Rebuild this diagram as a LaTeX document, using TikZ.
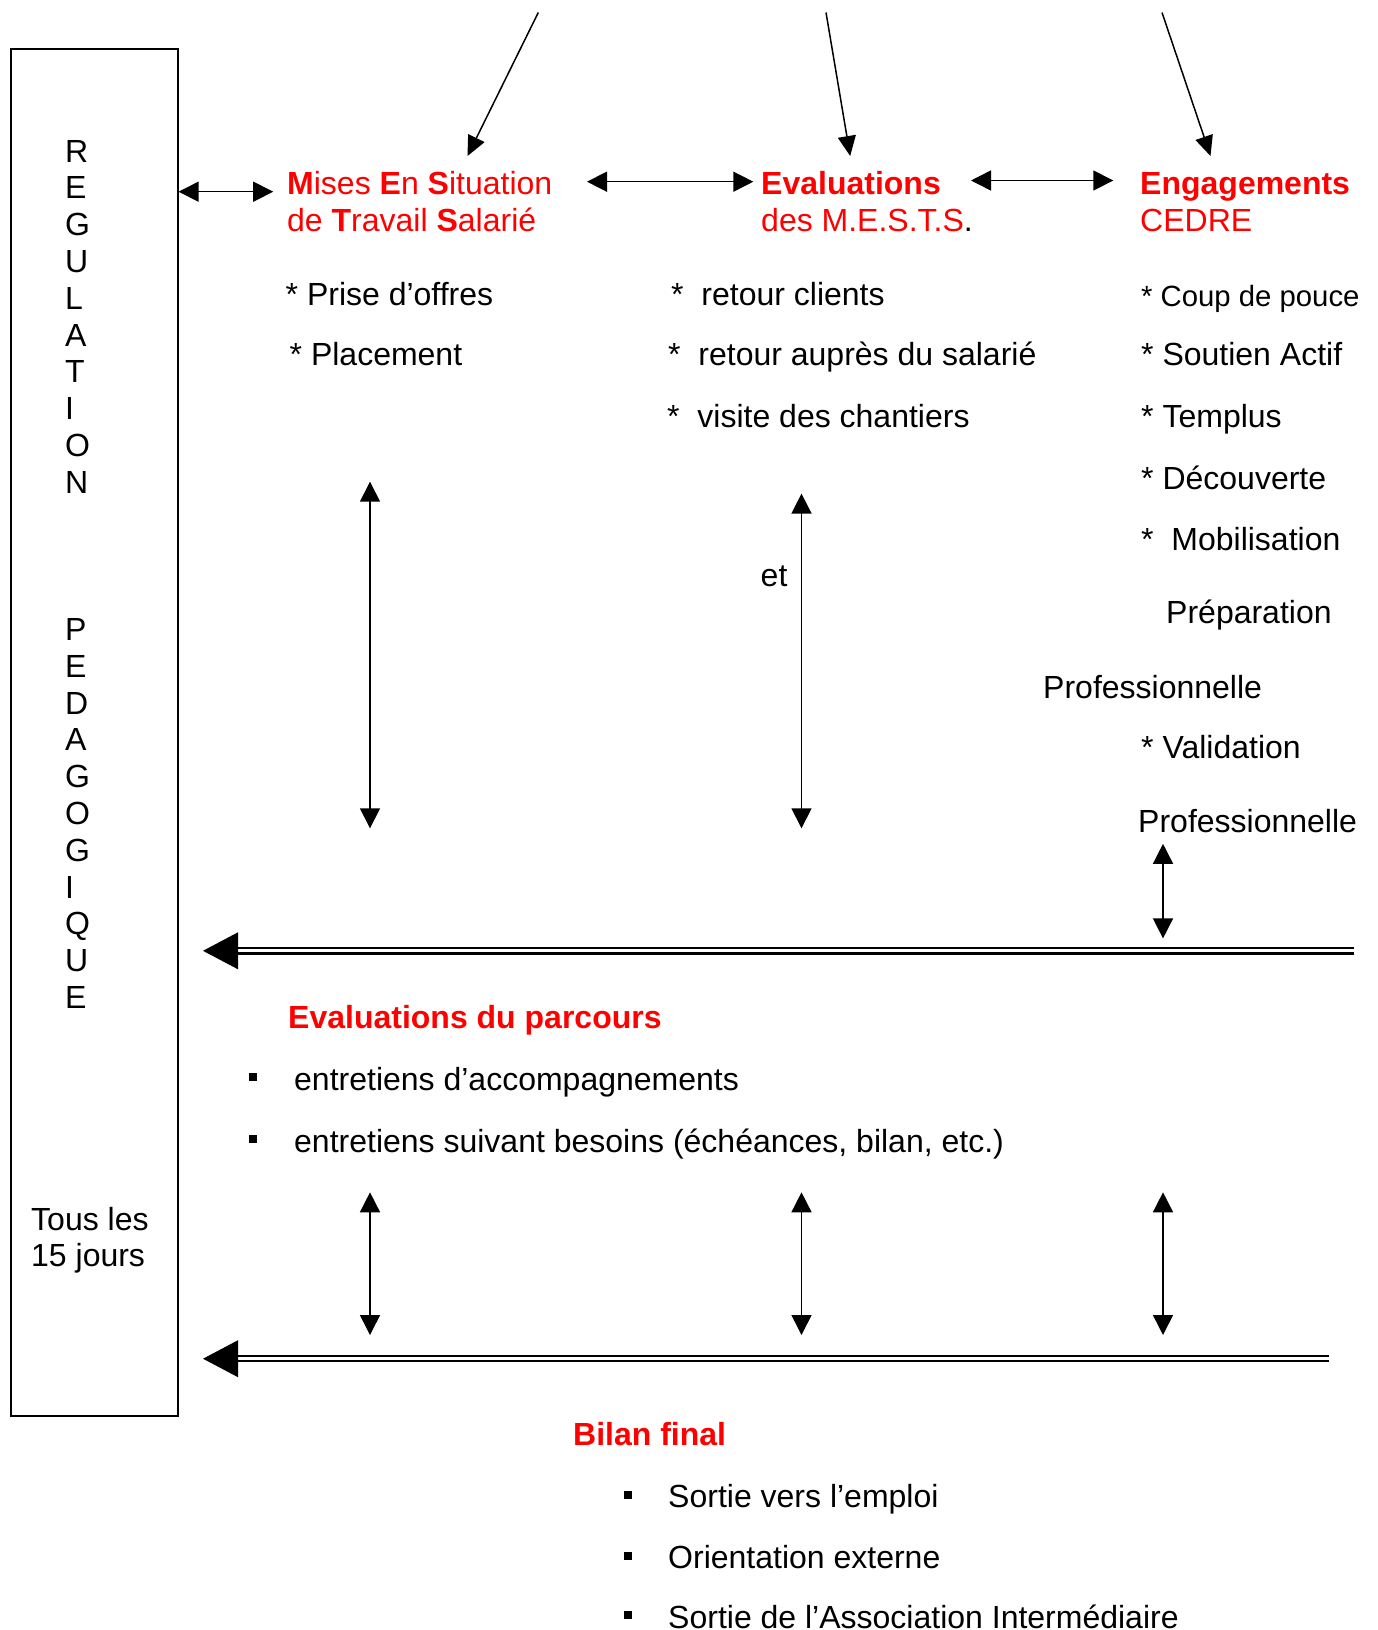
\documentclass[tikz,border=0pt]{standalone}
\usepackage{fontspec}
\setmainfont{Liberation Sans}
\usetikzlibrary{arrows.meta}
\definecolor{hred}{RGB}{255,0,0}
\newcommand{\fsz}{\fontsize{32}{36.8}\selectfont}
\newcommand{\fsm}{\fontsize{29.3}{33.7}\selectfont}
\begin{document}
\begin{tikzpicture}[x=1pt,y=-1pt,
  txt/.style={anchor=base west,inner sep=0pt,font=\fsz,yshift=-2pt},
  smalltxt/.style={anchor=base west,inner sep=0pt,font=\fsm,yshift=-2pt},
  hd/.style={txt,text=hred},
  hdb/.style={txt,text=hred,font=\fsz\bfseries},
  letter/.style={anchor=base west,inner sep=0pt,font=\fsz},
  dblarr/.style={draw,line width=1.5pt,{Triangle[length=20pt,width=20pt]}-{Triangle[length=20pt,width=20pt]}},
  onearr/.style={draw,line width=1.5pt,-{Triangle[length=20pt,width=18pt]}},
  bigshaft/.style={draw,double,double distance=3pt,line width=2.2pt},
  bighead/.style={fill=black},
  bul/.style={fill=black,minimum size=8pt,inner sep=0pt}
]
\useasboundingbox (0,0) rectangle (1377,1630);
\fill[white] (0,0) rectangle (1377,1630);

% left box
\node (box) [draw,line width=2pt,inner sep=0pt,minimum width=167pt,minimum height=1367.1pt,anchor=north west] at (9.8,48.3) {};
\foreach \l [count=\i from 0] in {R,E,G,U,L,A,T,I,O,N}
  \node[letter] (r\i) at (65,162+\i*36.8) {\l};
\foreach \l [count=\i from 13] in {P,E,D,A,G,O,G,I,Q,U,E}
  \node[letter] (p\i) at (65,162+\i*36.8) {\l};
\node[txt] (tous1) at (31,1228) {Tous les};
\node[txt] (tous2) at (31,1264.8) {15 jours};

% headings
\node[hd] (mes1) at (287,192) {\textbf{M}ises \textbf{E}n \textbf{S}ituation};
\node[hd] (mes2) at (287,229) {de \textbf{T}ravail \textbf{S}alarié};
\node[hdb] (ev1) at (761,192) {Evaluations};
\node[hd] (ev2) at (761,229) {des M.E.S.T.S\textcolor{black}{.}};
\node[hdb] (en1) at (1140,192) {Engagements};
\node[hd] (en2) at (1140,229) {CEDRE};

% top diagonal arrows
\coordinate (t1) at (538.3,12.5);
\coordinate (t2) at (826,12.5);
\coordinate (t3) at (1162,12.5);
\coordinate (h1) at (467.5,156);
\coordinate (h2) at (850.2,156);
\coordinate (h3) at (1210.5,156);
\draw[onearr] (t1) -- (h1);
\draw[onearr] (t2) -- (h2);
\draw[onearr] (t3) -- (h3);

% horizontal arrows between headings
\coordinate (a1l) at (178.6,191.7);
\coordinate (a1r) at (273.2,191.7);
\coordinate (a2l) at (587,181.7);
\coordinate (a2r) at (753.3,181.7);
\coordinate (a3l) at (971,180.5);
\coordinate (a3r) at (1113.3,180.5);
\draw[dblarr] (a1l) -- (a1r);
\draw[dblarr] (a2l) -- (a2r);
\draw[dblarr] (a3l) -- (a3r);

% lists
\node[txt] (l1) at (285.5,303) {* Prise d’offres};
\node[txt] (l2) at (289.5,363) {* Placement};
\node[txt] (m1) at (671,303) {*\ \ retour clients};
\node[txt] (m2) at (668,363) {*\ \ retour auprès du salarié};
\node[txt] (m3) at (667,425.7) {*\ \ visite des chantiers};
\node[smalltxt] (c1) at (1141,304) {* Coup de pouce};
\node[txt] (c2) at (1141,363) {* Soutien Actif};
\node[txt] (c3) at (1141,425.7) {* Templus};
\node[txt] (c4) at (1141,487) {* Découverte};
\node[txt] (c5) at (1141,548) {*\ \ Mobilisation};
\node[txt] (c6) at (1166,621) {Préparation};
\node[txt] (c7) at (1043,696) {Professionnelle};
\node[txt] (c8) at (1141,756) {* Validation};
\node[txt] (c9) at (1138,830) {Professionnelle};
\node[txt] (et) at (760.5,584.7) {et};

% vertical arrows middle
\coordinate (v1t) at (370,481.7);
\coordinate (v1b) at (370,828.3);
\coordinate (v2t) at (801.5,493.6);
\coordinate (v2b) at (801.5,828.3);
\coordinate (v3t) at (1163,843.8);
\coordinate (v3b) at (1163,938.4);
\draw[dblarr] (v1t) -- (v1b);
\draw[dblarr] (v2t) -- (v2b);
\draw[dblarr] (v3t) -- (v3b);

% big left arrow 1
\coordinate (b1tip) at (203,950.8);
\coordinate (b1base) at (238,950.8);
\coordinate (b1end) at (1354,950.8);
\draw[bigshaft] (b1end) -- (b1base);
\fill[bighead] (b1tip) -- ([yshift=18.5pt]b1base) -- ([yshift=-18.5pt]b1base) -- cycle;

% evaluations du parcours
\node[hdb] (evp) at (288,1026) {Evaluations du parcours};
\node[bul] (bu1) at (253,1077) {};
\node[txt] (e1) at (294,1088) {entretiens d’accompagnements};
\node[bul] (bu2) at (253,1139) {};
\node[txt] (e2) at (294,1150) {entretiens suivant besoins (échéances, bilan, etc.)};

% lower vertical arrows
\coordinate (w1t) at (370,1192.3);
\coordinate (w1b) at (370,1335);
\coordinate (w2t) at (801.5,1192.3);
\coordinate (w2b) at (801.5,1335);
\coordinate (w3t) at (1163,1192.3);
\coordinate (w3b) at (1163,1335);
\draw[dblarr] (w1t) -- (w1b);
\draw[dblarr] (w2t) -- (w2b);
\draw[dblarr] (w3t) -- (w3b);

% big left arrow 2
\coordinate (b2tip) at (203,1358.7);
\coordinate (b2base) at (238,1358.7);
\coordinate (b2end) at (1329,1358.7);
\draw[bigshaft] (b2end) -- (b2base);
\fill[bighead] (b2tip) -- ([yshift=18.5pt]b2base) -- ([yshift=-18.5pt]b2base) -- cycle;

% bilan final
\node[hdb] (bil) at (573,1443) {Bilan final};
\node[bul] (bf1) at (628,1494.5) {};
\node[txt] (f1) at (668,1505.5) {Sortie vers l’emploi};
\node[bul] (bf2) at (628,1555.7) {};
\node[txt] (f2) at (668,1566.7) {Orientation externe};
\node[bul] (bf3) at (628,1615) {};
\node[txt] (f3) at (668,1626) {Sortie de l’Association Intermédiaire};
\end{tikzpicture}
\end{document}
